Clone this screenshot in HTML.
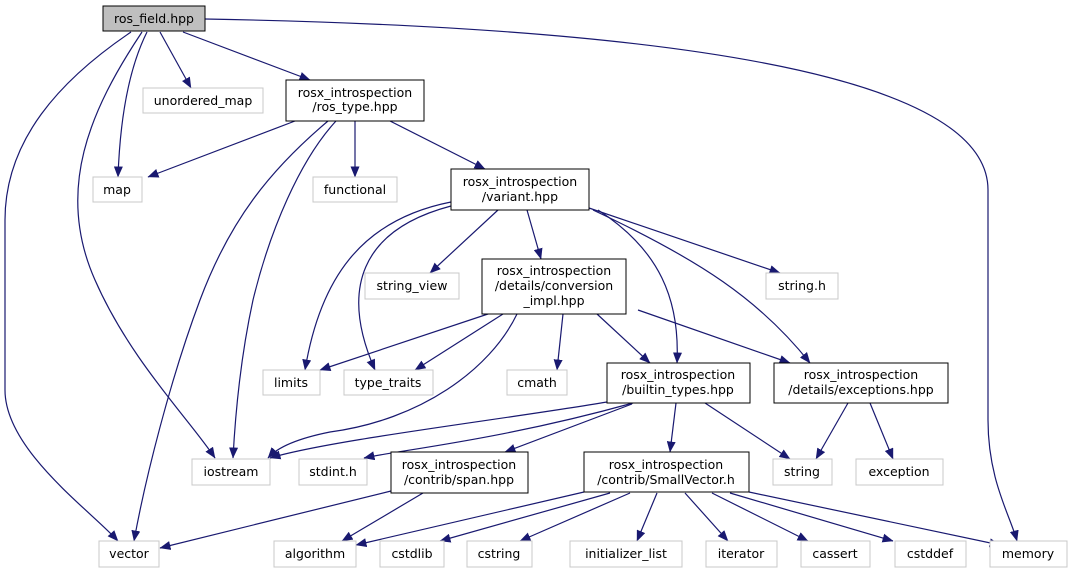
<!DOCTYPE html>
<html><head><meta charset="utf-8"><style>
html,body{margin:0;padding:0;background:#fff;}
svg{display:block;}
text{font-family:"DejaVu Sans","Liberation Sans",sans-serif;font-size:12.5px;fill:#000;}
</style></head><body>
<svg width="1073" height="573" viewBox="0 0 1073 573" xmlns="http://www.w3.org/2000/svg">
<defs>
<marker id="a" markerWidth="11" markerHeight="9" refX="10.5" refY="4.5" orient="auto" markerUnits="userSpaceOnUse">
<path d="M0,0 L11,4.5 L0,9 Z" fill="#191970"/>
</marker>
</defs>
<g fill="none" stroke="#191970" stroke-width="1.2" marker-end="url(#a)">
<path d="M205,19 C700,28 988,80 988,190 L988,420 C988,480 1010,515 1017,541"/>
<path d="M131,32 C60,80 5,140 5,220 L5,390 C5,450 90,510 118,541"/>
<path d="M142,32 C90,110 55,190 95,280 C130,360 190,420 215,458"/>
<path d="M147,32 C128,70 120,120 118,177"/>
<path d="M160,32 L191,88"/>
<path d="M183,32 L310,80"/>
<path d="M295,121 L148,177"/>
<path d="M355,121 L355,177"/>
<path d="M390,121 L485,169"/>
<path d="M336,121 C300,160 270,230 253,300 C240,360 235,420 233,458"/>
<path d="M328,121 C270,170 230,220 200,300 C170,380 145,480 134,541"/>
<path d="M498,210 L430,273"/>
<path d="M527,210 L541,259"/>
<path d="M589,208 L780,273"/>
<path d="M598,210 C660,250 680,300 677,363"/>
<path d="M593,210 C700,260 760,300 810,363"/>
<path d="M451,202 C360,220 320,280 305,370"/>
<path d="M451,206 C360,230 340,290 375,370"/>
<path d="M494,312 L320,370"/>
<path d="M503,314 L415,370"/>
<path d="M563,314 L557,370"/>
<path d="M597,314 L650,363"/>
<path d="M638,310 L790,363"/>
<path d="M517,314 C490,370 420,420 330,432 C290,440 275,450 268,458"/>
<path d="M607,402 C500,420 330,440 270,458"/>
<path d="M633,403 C500,440 400,450 364,458"/>
<path d="M632,404 L505,452"/>
<path d="M676,403 L670,452"/>
<path d="M705,403 L790,459"/>
<path d="M848,403 L816,459"/>
<path d="M870,403 L893,459"/>
<path d="M391,491 L160,548"/>
<path d="M423,493 L342,541"/>
<path d="M584,492 L356,545"/>
<path d="M610,493 L440,541"/>
<path d="M630,493 L520,541"/>
<path d="M657,493 L637,541"/>
<path d="M685,493 L728,541"/>
<path d="M712,493 L808,541"/>
<path d="M730,493 L893,541"/>
<path d="M749,492 L1000,545"/>
</g>
<g stroke-width="1">
<rect x="103" y="6" width="102" height="25" fill="#bfbfbf" stroke="#000"/>
<g fill="#fff" stroke="#000">
<rect x="286" y="80" width="138" height="41"/>
<rect x="451" y="169" width="138" height="41"/>
<rect x="482" y="259" width="144" height="55"/>
<rect x="607" y="363" width="143" height="40"/>
<rect x="774" y="363" width="174" height="40"/>
<rect x="391" y="452" width="137" height="41"/>
<rect x="584" y="452" width="165" height="40"/>
</g>
<g fill="#fff" stroke="#c8c8c8">
<rect x="143" y="88" width="120" height="25"/>
<rect x="93" y="177" width="49" height="25"/>
<rect x="313" y="177" width="84" height="25"/>
<rect x="365" y="273" width="94" height="26"/>
<rect x="766" y="273" width="72" height="26"/>
<rect x="263" y="370" width="57" height="25"/>
<rect x="344" y="370" width="89" height="25"/>
<rect x="507" y="370" width="60" height="25"/>
<rect x="192" y="459" width="78" height="26"/>
<rect x="299" y="459" width="68" height="26"/>
<rect x="773" y="459" width="59" height="26"/>
<rect x="856" y="459" width="87" height="26"/>
<rect x="99" y="541" width="60" height="26"/>
<rect x="274" y="541" width="82" height="26"/>
<rect x="380" y="541" width="64" height="26"/>
<rect x="467" y="541" width="65" height="26"/>
<rect x="570" y="541" width="112" height="26"/>
<rect x="706" y="541" width="71" height="26"/>
<rect x="801" y="541" width="69" height="26"/>
<rect x="895" y="541" width="71" height="26"/>
<rect x="990" y="541" width="77" height="26"/>
</g>
</g>
<g text-anchor="middle">
<text x="154" y="23">ros_field.hpp</text>
<text x="355" y="97">rosx_introspection</text>
<text x="355" y="111">/ros_type.hpp</text>
<text x="520" y="186">rosx_introspection</text>
<text x="520" y="201">/variant.hpp</text>
<text x="554" y="275">rosx_introspection</text>
<text x="554" y="290">/details/conversion</text>
<text x="554" y="305">_impl.hpp</text>
<text x="678" y="379">rosx_introspection</text>
<text x="678" y="394">/builtin_types.hpp</text>
<text x="861" y="379">rosx_introspection</text>
<text x="861" y="394">/details/exceptions.hpp</text>
<text x="459" y="469">rosx_introspection</text>
<text x="459" y="484">/contrib/span.hpp</text>
<text x="666" y="469">rosx_introspection</text>
<text x="666" y="484">/contrib/SmallVector.h</text>
<text x="203" y="105">unordered_map</text>
<text x="117" y="194">map</text>
<text x="355" y="194">functional</text>
<text x="412" y="290">string_view</text>
<text x="802" y="290">string.h</text>
<text x="291" y="387">limits</text>
<text x="388" y="387">type_traits</text>
<text x="537" y="387">cmath</text>
<text x="231" y="476">iostream</text>
<text x="333" y="476">stdint.h</text>
<text x="802" y="476">string</text>
<text x="899" y="476">exception</text>
<text x="129" y="558">vector</text>
<text x="315" y="558">algorithm</text>
<text x="412" y="558">cstdlib</text>
<text x="499" y="558">cstring</text>
<text x="626" y="558">initializer_list</text>
<text x="741" y="558">iterator</text>
<text x="835" y="558">cassert</text>
<text x="930" y="558">cstddef</text>
<text x="1028" y="558">memory</text>
</g>
</svg>
</body></html>
